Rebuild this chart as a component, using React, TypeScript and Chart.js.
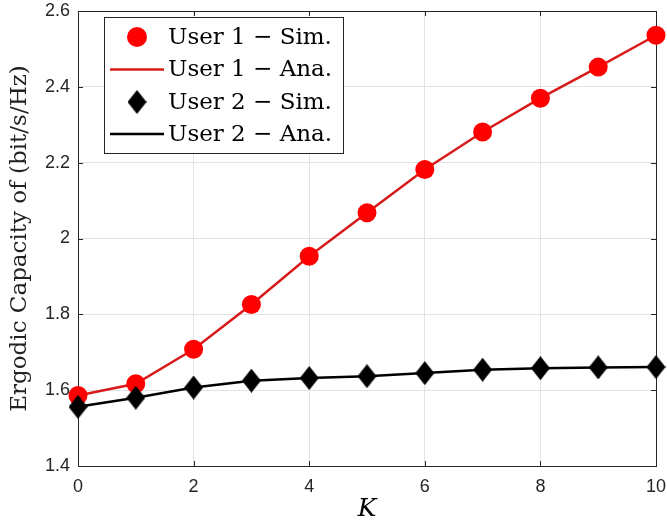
import { useEffect, useRef } from 'react';
import { Chart, registerables } from 'chart.js';

Chart.register(...registerables);

const kValues = [0, 1, 2, 3, 4, 5, 6, 7, 8, 9, 10];
const user1Sim = [1.586, 1.617, 1.708, 1.826, 1.953, 2.068, 2.182, 2.281, 2.370, 2.452, 2.536];
const user1Ana = [1.586, 1.617, 1.708, 1.826, 1.953, 2.068, 2.182, 2.281, 2.370, 2.452, 2.536];
const user2Sim = [1.556, 1.580, 1.607, 1.625, 1.632, 1.637, 1.645, 1.654, 1.658, 1.660, 1.661];
const user2Ana = [1.556, 1.580, 1.607, 1.625, 1.632, 1.637, 1.645, 1.654, 1.658, 1.660, 1.661];
const legendLabels = ['User 1 \u2212 Sim.', 'User 1 \u2212 Ana.', 'User 2 \u2212 Sim.', 'User 2 \u2212 Ana.'];
const xTitle = 'K';
const yTitle = 'Ergodic Capacity of (bit/s/Hz)';

const RED = '#ff0000';
const RED_LINE = '#d91a1a';
const BLACK = '#000000';
const AXIS = '#262626';

function makeDiamond(w: number, h: number, color: string) {
  const c = document.createElement('canvas');
  c.width = w;
  c.height = h;
  const g = c.getContext('2d')!;
  g.beginPath();
  g.moveTo(w / 2, 0);
  g.lineTo(w, h / 2);
  g.lineTo(w / 2, h);
  g.lineTo(0, h / 2);
  g.closePath();
  g.fillStyle = color;
  g.fill();
  return c;
}

const toPts = (ys: number[]) => kValues.map((x, i) => ({ x, y: ys[i] }));
const fmt = (v: any) => String(Math.round(Number(v) * 10) / 10);

export default function App() {
  const ref = useRef<HTMLCanvasElement>(null);
  useEffect(() => {
    const diamond = makeDiamond(19, 24, BLACK);
    const boxPlugin = {
      id: 'boxPlugin',
      beforeDatasetsDraw(chart: any) {
        const { ctx, chartArea: a, scales } = chart;
        ctx.save();
        ctx.strokeStyle = AXIS;
        ctx.lineWidth = 1;
        ctx.strokeRect(Math.round(a.left) + 0.5, Math.round(a.top) + 0.5, Math.round(a.right - a.left), Math.round(a.bottom - a.top));
        const tl = 5;
        ctx.beginPath();
        scales.x.ticks.forEach((t: any) => {
          const px = Math.round(scales.x.getPixelForValue(t.value)) + 0.5;
          ctx.moveTo(px, a.bottom);
          ctx.lineTo(px, a.bottom - tl);
          ctx.moveTo(px, a.top);
          ctx.lineTo(px, a.top + tl);
        });
        scales.y.ticks.forEach((t: any) => {
          const py = Math.round(scales.y.getPixelForValue(t.value)) + 0.5;
          ctx.moveTo(a.left, py);
          ctx.lineTo(a.left + tl, py);
          ctx.moveTo(a.right, py);
          ctx.lineTo(a.right - tl, py);
        });
        ctx.stroke();
        ctx.restore();
      },
      afterDraw(chart: any) {
        const { ctx } = chart;
        ctx.save();
        const bx = 104.5, by = 17.5, bw = 239, bh = 136;
        ctx.fillStyle = '#ffffff';
        ctx.fillRect(bx, by, bw, bh);
        ctx.strokeStyle = AXIS;
        ctx.lineWidth = 1;
        ctx.strokeRect(bx, by, bw, bh);
        const rows = [37, 69.5, 102, 134];
        const mx = 137;
        ctx.font = '23px "DejaVu Serif"';
        ctx.textBaseline = 'middle';
        ctx.textAlign = 'left';
        rows.forEach((ry, i) => {
          if (i === 0) {
            ctx.beginPath();
            ctx.arc(mx, ry, 10, 0, Math.PI * 2);
            ctx.fillStyle = RED;
            ctx.fill();
          } else if (i === 2) {
            ctx.drawImage(diamond, mx - diamond.width / 2, ry - diamond.height / 2);
          } else {
            ctx.beginPath();
            ctx.moveTo(110, ry);
            ctx.lineTo(164, ry);
            ctx.strokeStyle = i === 1 ? RED_LINE : BLACK;
            ctx.lineWidth = 2.5;
            ctx.stroke();
          }
          ctx.fillStyle = '#000000';
          ctx.fillText(legendLabels[i], 168, ry + 1);
        });
        ctx.restore();
      },
    };

    const chart = new Chart(ref.current!, {
      type: 'line',
      data: {
        datasets: [
          { label: legendLabels[0], data: toPts(user1Sim), showLine: false, pointRadius: 9.5, pointHoverRadius: 9.5, pointBackgroundColor: RED, pointBorderWidth: 0, borderColor: RED, clip: false, order: 1 },
          { label: legendLabels[1], data: toPts(user1Ana), borderColor: RED_LINE, borderWidth: 2.5, pointRadius: 0, clip: false, order: 3 },
          { label: legendLabels[2], data: toPts(user2Sim), showLine: false, pointStyle: diamond as any, pointRadius: 10, pointBackgroundColor: BLACK, borderColor: BLACK, clip: false, order: 0 },
          { label: legendLabels[3], data: toPts(user2Ana), borderColor: BLACK, borderWidth: 2.5, pointRadius: 0, clip: false, order: 2 },
        ],
      },
      options: {
        animation: false,
        responsive: false,
        maintainAspectRatio: false,
        events: [],
        layout: { padding: { top: 9, right: 9, left: 0, bottom: 0 } },
        plugins: { legend: { display: false }, tooltip: { enabled: false } },
        scales: {
          x: {
            type: 'linear',
            min: 0,
            max: 10,
            border: { display: false },
            grid: { color: '#e3e3e3', drawTicks: false, lineWidth: 1 },
            ticks: { stepSize: 2, padding: 10, color: AXIS, callback: fmt, font: { family: '"Liberation Sans", Arial, sans-serif', size: 18 } },
            title: { display: true, text: xTitle, color: '#000', padding: { top: 0, bottom: 0 }, font: { family: '"DejaVu Serif", serif', size: 25, style: 'italic' } },
            afterFit: (s: any) => { s.height = 58; s.paddingLeft = 0; s.paddingRight = 0; },
          },
          y: {
            type: 'linear',
            min: 1.4,
            max: 2.6,
            border: { display: false },
            grid: { color: '#e3e3e3', drawTicks: false, lineWidth: 1 },
            ticks: { stepSize: 0.2, padding: 8, color: AXIS, callback: fmt, font: { family: '"Liberation Sans", Arial, sans-serif', size: 18 } },
            title: { display: true, text: yTitle, color: '#222', padding: { top: 6, bottom: 0 }, font: { family: '"DejaVu Serif", serif', size: 23 } },
            afterFit: (s: any) => { s.width = 78; s.paddingTop = 0; s.paddingBottom = 0; },
          },
        },
      },
      plugins: [boxPlugin],
    });
    return () => chart.destroy();
  }, []);
  return (
    <div style={{ position: 'absolute', left: 0, top: 0, width: 667, height: 524, background: '#fff' }}>
      <canvas ref={ref} width={667} height={524} style={{ width: 667, height: 524 }} />
    </div>
  );
}
